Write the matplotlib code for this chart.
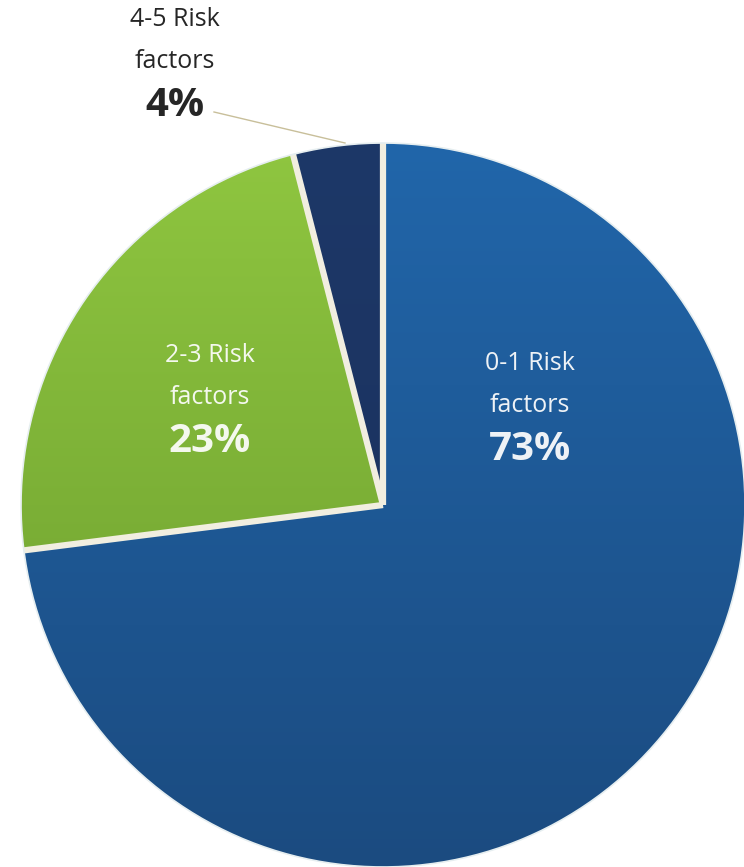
import numpy as np
import matplotlib
matplotlib.use('Agg')
import matplotlib.pyplot as plt
from matplotlib.colors import LinearSegmentedColormap

# risk factor groups and their share
labels = ['0-1 Risk\nfactors', '2-3 Risk\nfactors', '4-5 Risk\nfactors']
shares = [73, 23, 4]

# top / bottom shade of each slice
top_colors = ['#2166aa', '#8fc640', '#1d3868']
bottom_colors = ['#1b4b80', '#699a2d', '#1a2f5a']
edge_color = '#f1eee0'

W, H = 744, 867
cx, cy, r = 383, H - 505, 362

fig = plt.figure(figsize=(W / 100, H / 100), dpi=100)
ax = fig.add_axes([0, 0, 1, 1])

wedges, _ = ax.pie(shares, startangle=90, counterclock=False,
                   center=(cx, cy), radius=r, frame=True,
                   wedgeprops=dict(facecolor='none', edgecolor='none'))
ax.set_xlim(0, W)
ax.set_ylim(0, H)
ax.axis('off')

# vertical gradient inside each slice
grad = np.linspace(0, 1, 256).reshape(-1, 1)
for w, c0, c1 in zip(wedges, top_colors, bottom_colors):
    cmap = LinearSegmentedColormap.from_list('g', [c0, c1])
    im = ax.imshow(grad, cmap=cmap, aspect='auto', zorder=2,
                   extent=(cx - r, cx + r, cy - r, cy + r), origin='upper')
    im.set_clip_path(w)

# thick separators between slices, thin rim around the pie
bounds = 90 - 3.6 * np.cumsum([0] + shares[:-1])
for a in np.radians(bounds):
    ax.plot([cx, cx + r * np.cos(a)], [cy, cy + r * np.sin(a)],
            color=edge_color, lw=4.5, solid_capstyle='butt', zorder=3)
t = np.linspace(0, 2 * np.pi, 400)
ax.plot(cx + r * np.cos(t), cy + r * np.sin(t), color='#e6eef0', lw=1.2, zorder=3)

font = ['Open Sans', 'DejaVu Sans']

def put_label(x, y, text, pct, color):
    lines = text.split('\n')
    for i, s in enumerate(lines):
        ax.text(x, H - (y + 42 * i), s, ha='center', va='center', fontsize=18,
                family=font, color=color, zorder=5)
    ax.text(x, H - (y + 42 * len(lines) + 2), pct, ha='center', va='center',
            fontsize=29, family=font, weight='bold', color=color, zorder=5)

put_label(530, 364, labels[0], f'{shares[0]}%', '#eef2f6')
put_label(210, 356, labels[1], f'{shares[1]}%', '#f4f8ee')
put_label(175, 20, labels[2], f'{shares[2]}%', '#262626')

# leader line for the small slice
ax.plot([214, 345], [H - 112, H - 143], color='#c8bf9a', lw=1, zorder=4)

fig.savefig('out.png', dpi=100, facecolor='white')
